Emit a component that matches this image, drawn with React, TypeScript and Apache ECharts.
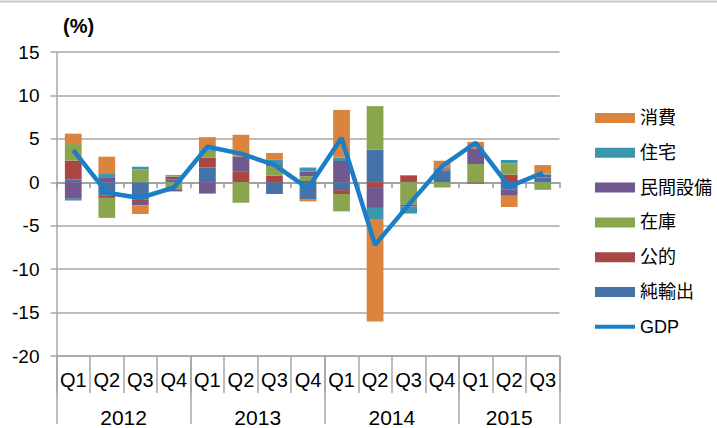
import React, { useEffect, useRef } from "react";
import * as echarts from "echarts";

const quarters = ["Q1","Q2","Q3","Q4","Q1","Q2","Q3","Q4","Q1","Q2","Q3","Q4","Q1","Q2","Q3"];
const years = ["2012", "2013", "2014", "2015"];
const quartersPerYear = [4, 4, 4, 3];

const netExports = [0.3, -1.5, -2.0, 0.3, 1.7, 0, -1.35, -2.0, -0.9, 3.77, 0.15, 1.36, 0, -0.8, 0.53];
const publicDemand = [2.2, -0.3, -0.15, 0.35, 1.15, 1.27, 0.78, 0.15, -0.45, -0.55, 0.65, 0.1, -0.15, 0.9, 0.05];
const inventory = [1.9, -2.3, 1.5, -0.8, 0.65, -2.35, 1.1, 0.55, -2.0, 5.0, -2.6, -0.6, 2.1, 1.3, -0.87];
const capex = [-1.9, 0.5, -0.5, -0.25, -1.3, 1.7, 0.2, 0.55, 2.45, -2.4, -0.2, 0.15, 1.8, -0.75, 0.3];
const housing = [-0.2, 0.45, 0.3, 0.05, 0.2, 0, 0.5, 0.45, 0.38, -1.28, -0.8, 0.12, 0, 0.38, 0.15];
const consumption = [1.2, 2.0, -1.0, 0.15, 1.5, 2.5, 0.8, -0.2, 5.5, -11.8, 0, 0.75, 0.75, -1.3, 0.95];
const gdp = [3.7, -1.2, -1.8, -0.6, 4.1, 3.3, 2.0, -0.7, 5.1, -7.2, -2.6, 1.85, 4.55, -0.5, 1.1];

const yMin = -20;
const yMax = 15;
const yStep = 5;

const FONT = "'Liberation Sans', Arial, 'Noto Sans CJK JP', sans-serif";
const GRID_COLOR = "#A6A6A6";
const GDP_COLOR = "#1B7EC6";

export default function App() {
  const ref = useRef<HTMLDivElement>(null);
  useEffect(() => {
    if (!ref.current) return;
    const chart = echarts.init(ref.current, null, { renderer: "svg" });

    const boundaries: number[] = [0];
    const centers: number[] = [];
    quartersPerYear.forEach((n) => {
      const start = boundaries[boundaries.length - 1];
      centers.push(start + n / 2);
      boundaries.push(start + n);
    });
    const total = boundaries[boundaries.length - 1];

    const barSeries = [
      { name: "純輸出", data: netExports, color: "#4572A7" },
      { name: "公的", data: publicDemand, color: "#AA4643" },
      { name: "在庫", data: inventory, color: "#89A54E" },
      { name: "民間設備", data: capex, color: "#71588F" },
      { name: "住宅", data: housing, color: "#3D96AE" },
      { name: "消費", data: consumption, color: "#DB843D" },
    ].map((s) => ({
      name: s.name,
      type: "bar",
      stack: "total",
      xAxisIndex: 0,
      yAxisIndex: 0,
      barWidth: "50%",
      data: s.data,
      itemStyle: { color: s.color },
    }));

    chart.setOption({
      animation: false,
      textStyle: { fontFamily: FONT },
      title: {
        text: "(%)",
        left: 63,
        top: 16,
        padding: 0,
        textStyle: { fontSize: 20, fontWeight: "bold", color: "#000", fontFamily: FONT },
      },
      graphic: [
        {
          type: "line",
          shape: { x1: 0, y1: 1.5, x2: 717, y2: 1.5 },
          style: { stroke: "#C8C8C8", lineWidth: 2 },
        },
      ],
      legend: {
        orient: "vertical",
        left: 593,
        top: 108,
        padding: 0,
        itemWidth: 40,
        itemHeight: 10,
        itemGap: 14.8,
        data: [
          { name: "消費", icon: "rect" },
          { name: "住宅", icon: "rect" },
          { name: "民間設備", icon: "rect" },
          { name: "在庫", icon: "rect" },
          { name: "公的", icon: "rect" },
          { name: "純輸出", icon: "rect" },
          { name: "GDP", itemStyle: { opacity: 0 }, lineStyle: { width: 4, color: GDP_COLOR } },
        ],
        textStyle: { fontSize: 18, color: "#000", lineHeight: 20, fontFamily: FONT },
      },
      grid: { left: 56.5, right: 157.5, top: 52, bottom: 67, containLabel: false },
      xAxis: [
        {
          type: "category",
          data: quarters,
          position: "bottom",
          axisLine: { show: true, onZero: false, lineStyle: { color: GRID_COLOR, width: 1.5 } },
          axisTick: { show: true, interval: 0, length: 37, lineStyle: { color: GRID_COLOR, width: 1.5 } },
          axisLabel: { interval: 0, margin: 14, fontSize: 20, color: "#000", fontFamily: FONT },
          splitLine: { show: false },
        },
        {
          type: "value",
          min: 0,
          max: total,
          position: "bottom",
          axisLine: { show: false, onZero: false },
          axisTick: {
            show: true,
            customValues: boundaries,
            length: 68,
            lineStyle: { color: GRID_COLOR, width: 1.5 },
          },
          axisLabel: {
            show: true,
            customValues: centers,
            margin: 51,
            fontSize: 21,
            color: "#000",
            fontFamily: FONT,
            formatter: (v: number) => {
              const i = centers.indexOf(v);
              return i >= 0 ? years[i] : "";
            },
          },
          splitLine: { show: false },
        },
        {
          type: "category",
          data: quarters,
          position: "bottom",
          axisLine: { show: true, onZero: true, lineStyle: { color: "#999999", width: 1.5 } },
          axisTick: { show: true, interval: 0, length: 6, lineStyle: { color: "#999999", width: 1.5 } },
          axisLabel: { show: false },
          splitLine: { show: false },
        },
      ],
      yAxis: {
        type: "value",
        min: yMin,
        max: yMax,
        interval: yStep,
        axisLine: { show: true, onZero: false, lineStyle: { color: GRID_COLOR, width: 1.5 } },
        axisTick: { show: true, length: 6, lineStyle: { color: GRID_COLOR, width: 1.5 } },
        axisLabel: { margin: 17, fontSize: 19, color: "#000", fontFamily: FONT },
        splitLine: { show: true, lineStyle: { color: GRID_COLOR, width: 1.5 } },
      },
      series: [
        ...barSeries,
        {
          name: "GDP",
          type: "line",
          xAxisIndex: 0,
          yAxisIndex: 0,
          data: gdp,
          symbol: "none",
          showSymbol: false,
          z: 10,
          color: GDP_COLOR,
          lineStyle: { color: GDP_COLOR, width: 4.5 },
        },
      ],
    });
    return () => chart.dispose();
  }, []);
  return (
    <div
      ref={ref}
      style={{ position: "fixed", left: 0, top: 0, width: 717, height: 428, background: "#fff" }}
    />
  );
}
